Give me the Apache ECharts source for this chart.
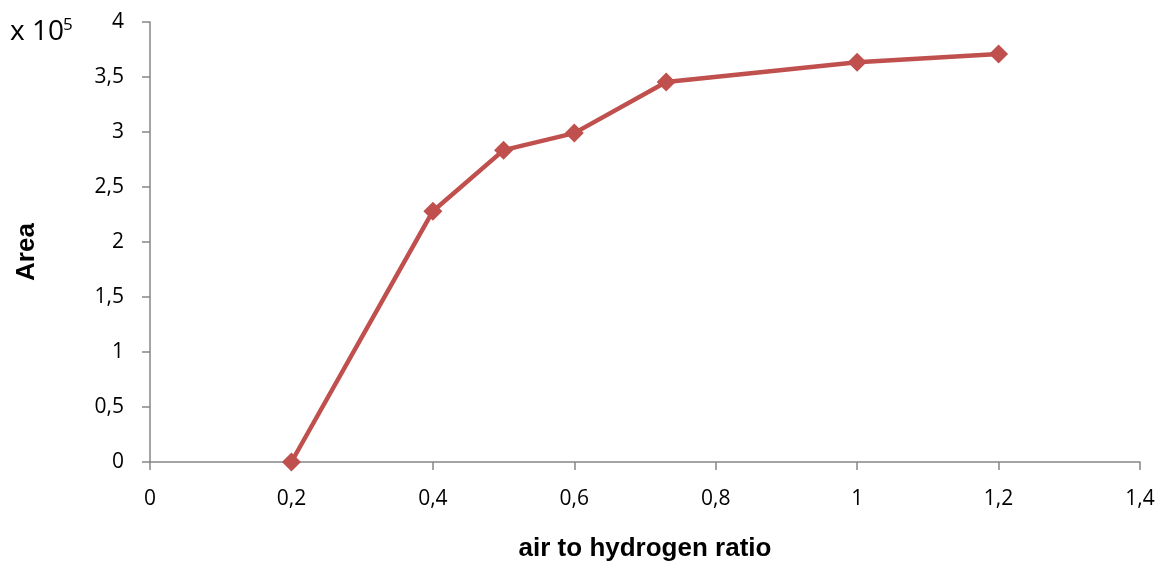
<!DOCTYPE html>
<html>
<head>
<meta charset="utf-8">
<script src="https://cdn.jsdelivr.net/npm/echarts@6/dist/echarts.min.js"></script>
<style>
html,body{margin:0;padding:0;background:#fff;}
#chart{width:1159px;height:563px;}
</style>
</head>
<body>
<div id="chart"></div>
<script>
const ratios = [0.2, 0.4, 0.5, 0.6, 0.73, 1.0, 1.2];
const areas = [0, 2.28, 2.835, 2.99, 3.455, 3.635, 3.71];
const xTitle = 'air to hydrogen ratio';
const yTitle = 'Area';
const yUnit = 'x 10';
const yExp = '5';

const fmt = v => String(+v.toFixed(2)).replace('.', ',');
const chart = echarts.init(document.getElementById('chart'));
const axisColor = '#868686';
const labelFont = '"Open Sans", "Liberation Sans", sans-serif';
const titleFont = '"Liberation Sans", Arial, sans-serif';
chart.setOption({
  animation: false,
  grid: {left: 150, right: 19, top: 22, bottom: 101, containLabel: false, outerBoundsMode: 'none'},
  xAxis: {
    type: 'value', min: 0, max: 1.4, interval: 0.2,
    name: xTitle, nameLocation: 'middle', nameGap: 74,
    nameTextStyle: {fontFamily: titleFont, fontWeight: 'bold', fontSize: 26, color: '#000'},
    axisLine: {lineStyle: {color: axisColor, width: 1.5}},
    axisTick: {show: true, length: 8, lineStyle: {color: axisColor, width: 1.5}},
    axisLabel: {formatter: fmt, fontFamily: labelFont, fontSize: 21, color: '#000', margin: 27},
    splitLine: {show: false}
  },
  yAxis: {
    type: 'value', min: 0, max: 4, interval: 0.5,
    axisLine: {show: true, lineStyle: {color: axisColor, width: 1.5}},
    axisTick: {show: true, length: 8, lineStyle: {color: axisColor, width: 1.5}},
    axisLabel: {formatter: fmt, fontFamily: labelFont, fontSize: 21, color: '#000', margin: 26},
    splitLine: {show: false}
  },
  graphic: [
    {
      type: 'text', x: 27, y: 252, rotation: Math.PI / 2,
      style: {text: yTitle, fontFamily: titleFont, fontWeight: 'bold', fontSize: 26, fill: '#000', align: 'center', verticalAlign: 'middle'}
    },
    {
      type: 'text', x: 10, y: 32,
      style: {text: yUnit, fontFamily: labelFont, fontSize: 28, fill: '#000', align: 'left', verticalAlign: 'middle'}
    },
    {
      type: 'text', x: 63, y: 25,
      style: {text: yExp, fontFamily: labelFont, fontSize: 17, fill: '#000', align: 'left', verticalAlign: 'middle'}
    }
  ],
  series: [{
    type: 'line',
    data: ratios.map((r, i) => [r, areas[i]]),
    symbol: 'diamond', symbolSize: 19,
    lineStyle: {color: '#C0504D', width: 4.5},
    itemStyle: {color: '#C0504D'}
  }]
});
</script>
</body>
</html>
